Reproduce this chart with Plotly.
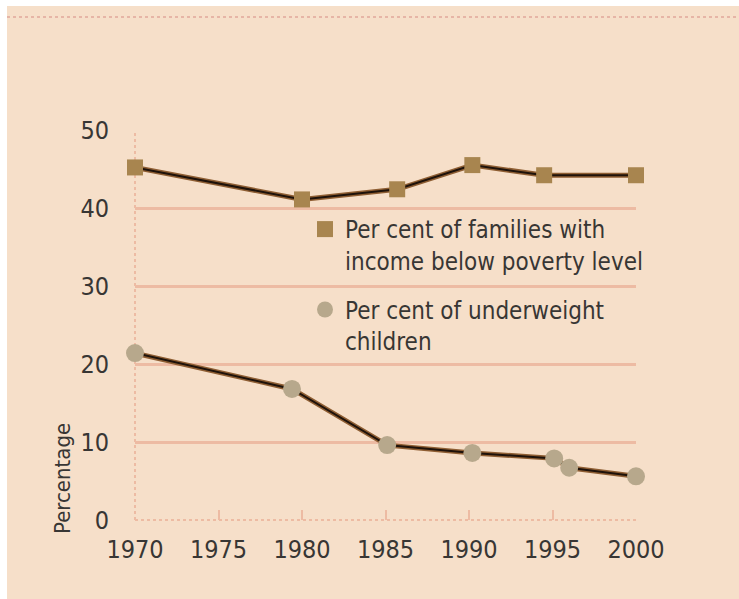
import plotly.graph_objects as go

# ---- data ----
poverty_years = [1970, 1980, 1985.7, 1990.2, 1994.5, 2000]
poverty_pct = [45.2, 41.1, 42.4, 45.5, 44.2, 44.2]

underweight_years = [1970, 1979.4, 1985.1, 1990.2, 1995.1, 1996, 2000]
underweight_pct = [21.4, 16.8, 9.6, 8.6, 7.9, 6.7, 5.6]

x_ticks = [1970, 1975, 1980, 1985, 1990, 1995, 2000]
y_ticks = [0, 10, 20, 30, 40, 50]

poverty_name = "Per cent of families with<br>income below poverty level"
underweight_name = "Per cent of underweight<br>children"

# ---- style ----
W, H = 739, 599
ML, MR, MT, MB = 135, 103, 130, 79
PW, PH = W - ML - MR, H - MT - MB
FONT = "Liberation Sans Narrow, Arial Narrow, DejaVu Sans Condensed, sans-serif"
PEACH = "#F6DFC9"
GRID = "#EDBBA3"
TEXT = "#383634"
LINE_DARK = "#1E120A"
LINE_EDGE = "#8E5E33"
SQ_COLOR = "#A8854F"
CI_COLOR = "#B7A88C"


def px_x(p):
    return (p - ML) / PW


def px_y(p):
    return (H - MB - p) / PH


fig = go.Figure()

for xs, ys in [(poverty_years, poverty_pct), (underweight_years, underweight_pct)]:
    fig.add_trace(go.Scatter(x=xs, y=ys, mode="lines", showlegend=False,
                             line=dict(color=LINE_EDGE, width=5), cliponaxis=False,
                             hoverinfo="skip"))
    fig.add_trace(go.Scatter(x=xs, y=ys, mode="lines", showlegend=False,
                             line=dict(color=LINE_DARK, width=2), cliponaxis=False,
                             hoverinfo="skip"))

fig.add_trace(go.Scatter(x=poverty_years, y=poverty_pct, mode="markers",
                         name=poverty_name, legendgroup="a", cliponaxis=False,
                         marker=dict(symbol="square", size=16, color=SQ_COLOR,
                                     line=dict(width=0))))
fig.add_trace(go.Scatter(x=underweight_years, y=underweight_pct, mode="markers",
                         name=underweight_name, legendgroup="b", cliponaxis=False,
                         marker=dict(symbol="circle", size=18, color=CI_COLOR,
                                     line=dict(width=0))))

shapes = [
    # white strips on top/left as in the reference
    dict(type="rect", xref="paper", yref="paper", layer="below",
         x0=px_x(-5), x1=px_x(7), y0=px_y(H + 5), y1=px_y(-5),
         fillcolor="white", line=dict(width=0)),
    dict(type="rect", xref="paper", yref="paper", layer="below",
         x0=px_x(-5), x1=px_x(W + 5), y0=px_y(6), y1=px_y(-5),
         fillcolor="white", line=dict(width=0)),
    # dotted top rule
    dict(type="line", xref="paper", yref="paper", layer="below",
         x0=px_x(7), x1=px_x(W), y0=px_y(17), y1=px_y(17),
         line=dict(color="#E6B5A6", width=2, dash="dot")),
    # dotted left axis and bottom axis
    dict(type="line", xref="paper", yref="paper", layer="below",
         x0=0, x1=0, y0=0, y1=1, line=dict(color=GRID, width=2, dash="dot")),
    dict(type="line", xref="paper", yref="paper", layer="below",
         x0=0, x1=1, y0=0, y1=0, line=dict(color=GRID, width=2, dash="dot")),
]

fig.update_layout(
    width=W, height=H,
    margin=dict(l=ML, r=MR, t=MT, b=MB),
    paper_bgcolor=PEACH,
    plot_bgcolor="rgba(0,0,0,0)",
    font=dict(family=FONT, color=TEXT, size=25),
    shapes=shapes,
    showlegend=True,
    legend=dict(x=px_x(305), y=px_y(207), xanchor="left", yanchor="top",
                bgcolor="rgba(0,0,0,0)", font=dict(size=24, family=FONT, color=TEXT),
                valign="top", traceorder="grouped", tracegroupgap=15,
                itemwidth=30),
    annotations=[dict(text="Percentage", textangle=-90, xref="paper", yref="paper",
                      x=px_x(62), y=px_y(479), xanchor="center", yanchor="middle",
                      showarrow=False, font=dict(size=22, family=FONT, color=TEXT))],
)

fig.update_xaxes(range=[1970, 2000], tickvals=x_ticks, ticktext=[str(t) for t in x_ticks],
                 showgrid=False, zeroline=False, showline=False,
                 ticks="inside", ticklen=10, tickwidth=2, tickcolor=GRID,
                 ticklabelstandoff=12, tickfont=dict(size=25, family=FONT, color=TEXT))
fig.update_yaxes(range=[0, 50], tickvals=y_ticks, ticktext=[str(t) for t in y_ticks],
                 showgrid=True, gridcolor=GRID, gridwidth=3, zeroline=False, showline=False,
                 ticks="", ticklabelstandoff=25,
                 tickfont=dict(size=25, family=FONT, color=TEXT))

fig.write_html("out.html")
